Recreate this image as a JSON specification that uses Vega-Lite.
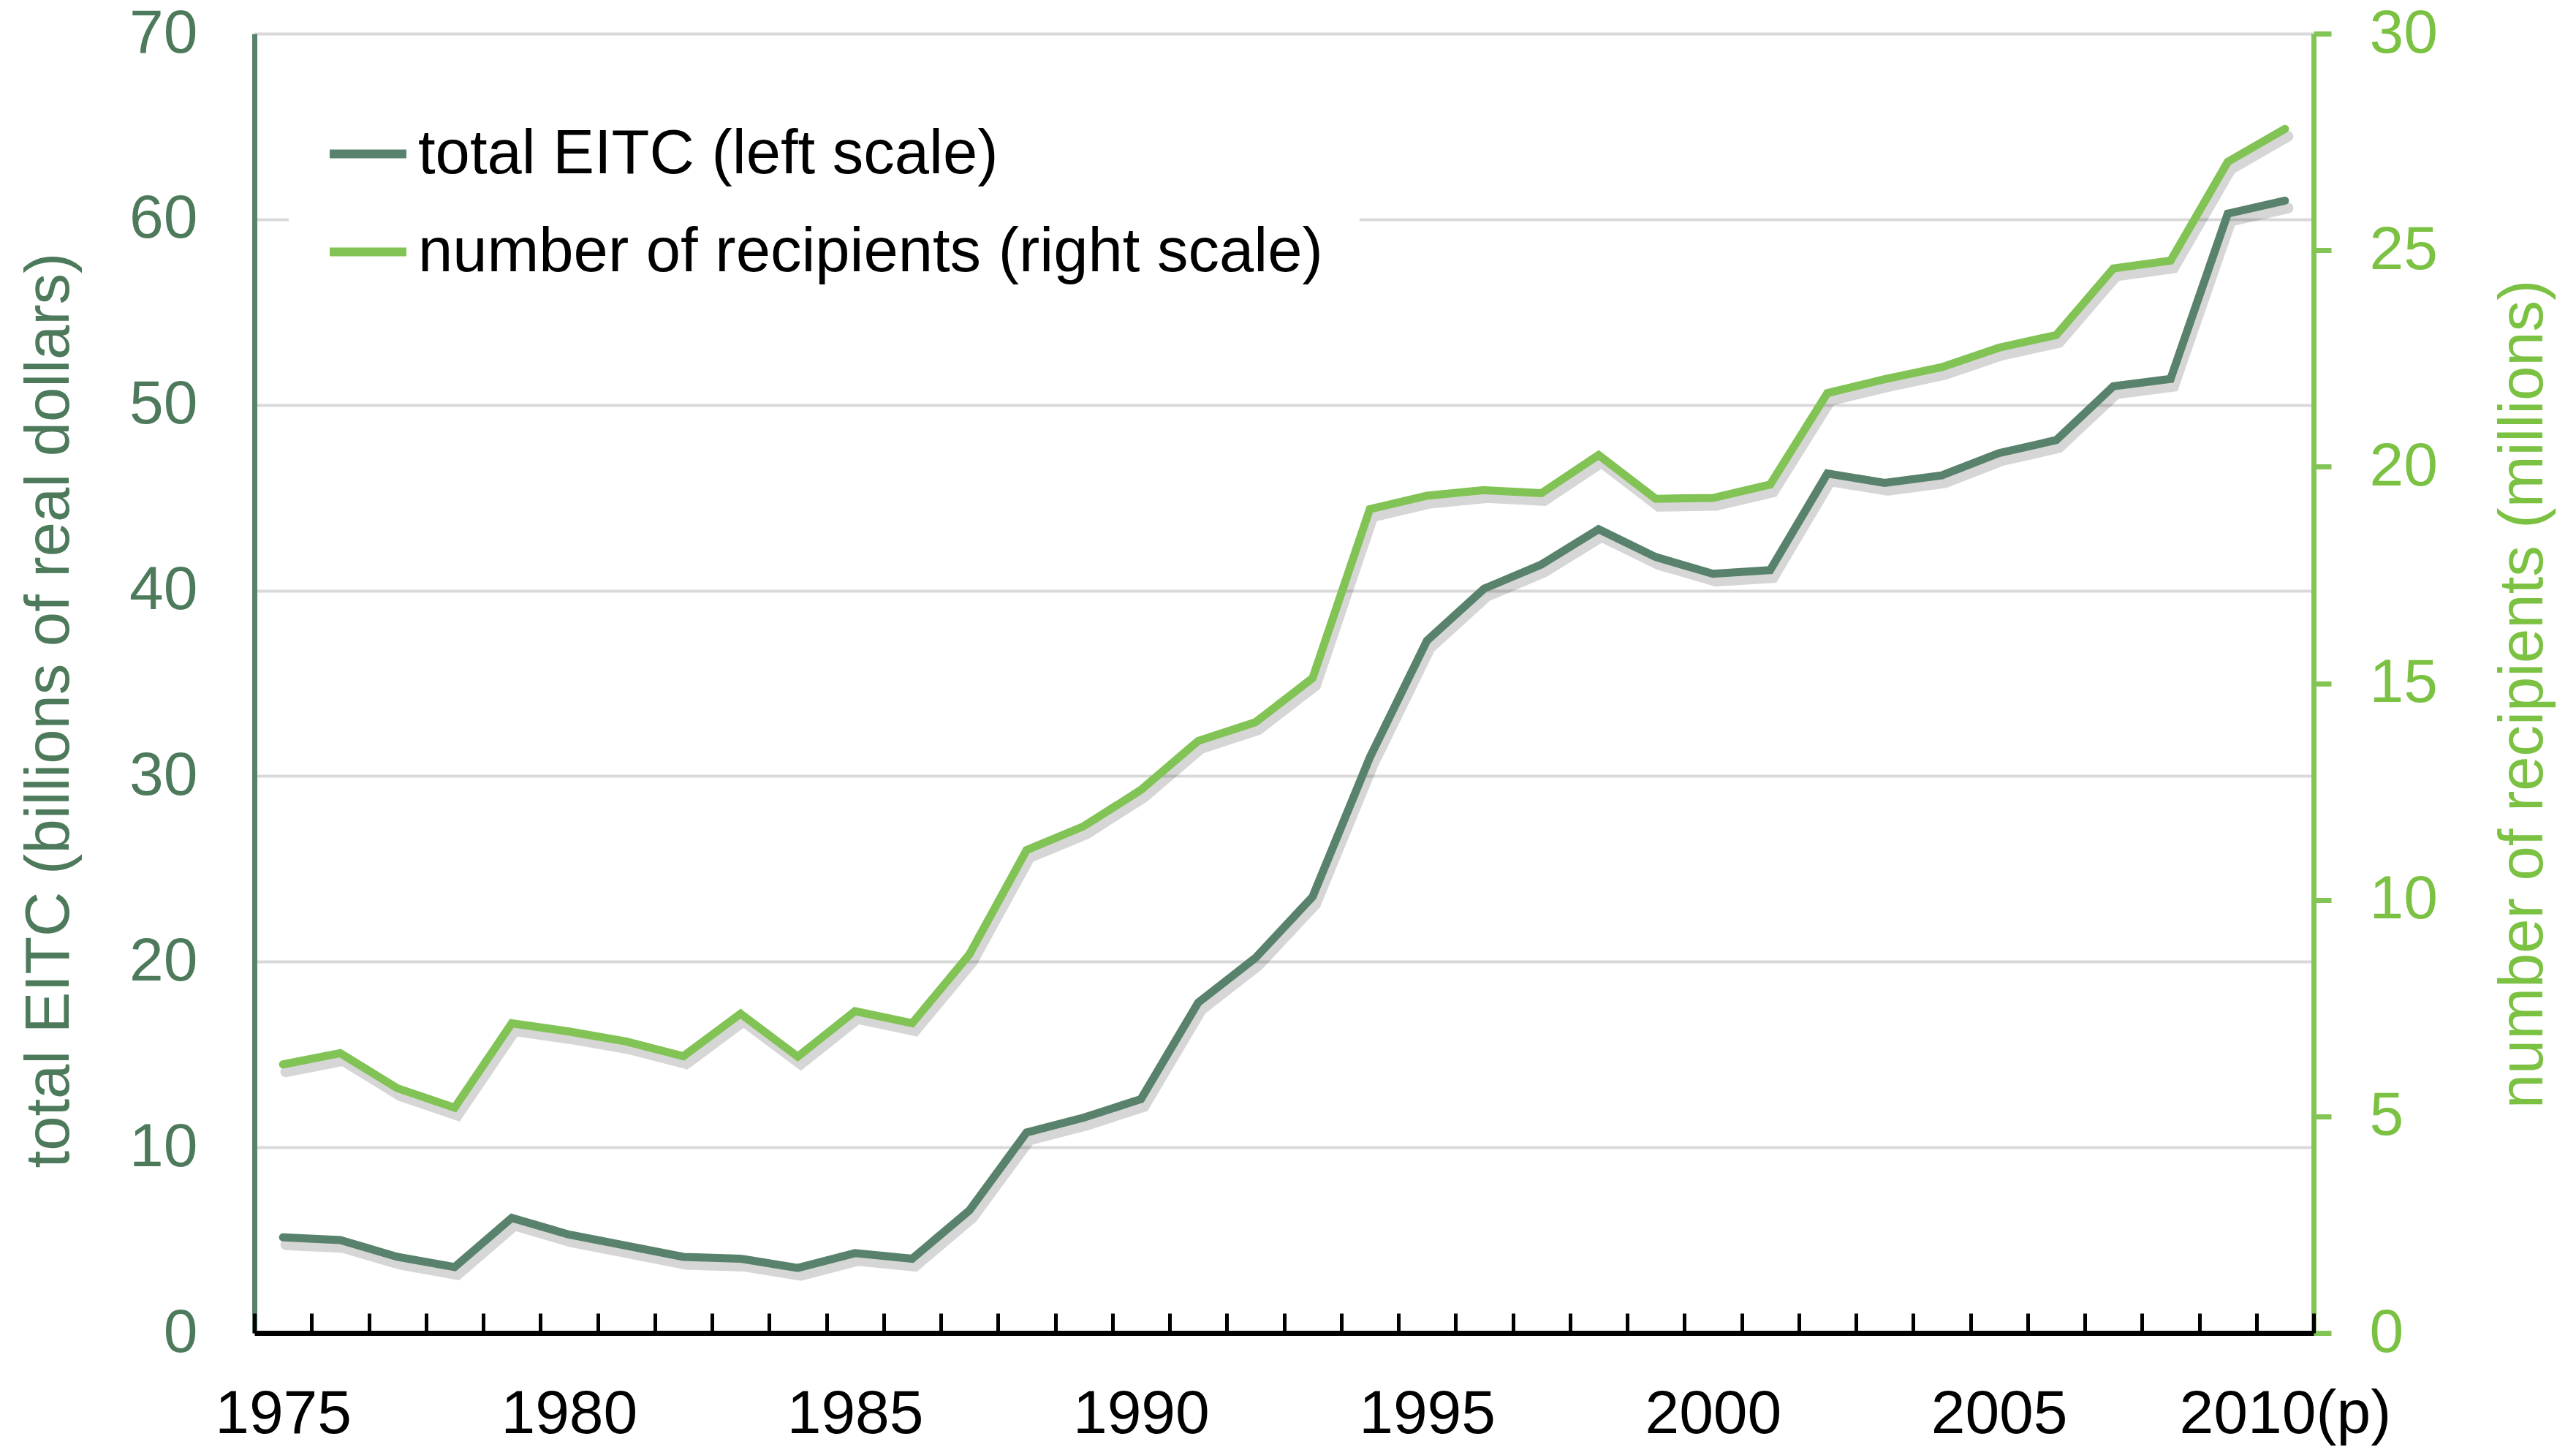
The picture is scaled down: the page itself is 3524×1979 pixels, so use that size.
{
  "$schema": "https://vega.github.io/schema/vega-lite/v6.json",
  "width": 2817,
  "height": 1777,
  "autosize": "none",
  "padding": {"left": 348, "top": 46, "right": 359, "bottom": 156},
  "background": "white",
  "config": {
    "view": {"stroke": null},
    "font": "Liberation Sans",
    "axis": {"labelFont": "Liberation Sans", "titleFont": "Liberation Sans", "labelFlush": false, "labelOverlap": false, "labelLimit": 0, "titleFontWeight": "normal"}
  },
  "data": {
    "values": [
      {"year": 1975, "eitc": 5.15, "recipients": 6.2},
      {"year": 1976, "eitc": 5.0, "recipients": 6.46},
      {"year": 1977, "eitc": 4.1, "recipients": 5.65},
      {"year": 1978, "eitc": 3.55, "recipients": 5.2},
      {"year": 1979, "eitc": 6.2, "recipients": 7.15},
      {"year": 1980, "eitc": 5.3, "recipients": 6.96},
      {"year": 1981, "eitc": 4.7, "recipients": 6.73},
      {"year": 1982, "eitc": 4.1, "recipients": 6.39},
      {"year": 1983, "eitc": 4.0, "recipients": 7.37},
      {"year": 1984, "eitc": 3.5, "recipients": 6.38},
      {"year": 1985, "eitc": 4.3, "recipients": 7.43},
      {"year": 1986, "eitc": 4.0, "recipients": 7.15},
      {"year": 1987, "eitc": 6.6, "recipients": 8.74},
      {"year": 1988, "eitc": 10.8, "recipients": 11.15},
      {"year": 1989, "eitc": 11.6, "recipients": 11.7},
      {"year": 1990, "eitc": 12.6, "recipients": 12.54},
      {"year": 1991, "eitc": 17.8, "recipients": 13.67},
      {"year": 1992, "eitc": 20.2, "recipients": 14.1},
      {"year": 1993, "eitc": 23.5, "recipients": 15.12},
      {"year": 1994, "eitc": 31.0, "recipients": 19.02},
      {"year": 1995, "eitc": 37.3, "recipients": 19.33},
      {"year": 1996, "eitc": 40.1, "recipients": 19.46},
      {"year": 1997, "eitc": 41.4, "recipients": 19.39},
      {"year": 1998, "eitc": 43.3, "recipients": 20.27},
      {"year": 1999, "eitc": 41.8, "recipients": 19.26},
      {"year": 2000, "eitc": 40.9, "recipients": 19.28},
      {"year": 2001, "eitc": 41.1, "recipients": 19.59},
      {"year": 2002, "eitc": 46.3, "recipients": 21.7},
      {"year": 2003, "eitc": 45.8, "recipients": 22.02},
      {"year": 2004, "eitc": 46.2, "recipients": 22.3},
      {"year": 2005, "eitc": 47.4, "recipients": 22.75},
      {"year": 2006, "eitc": 48.1, "recipients": 23.04},
      {"year": 2007, "eitc": 51.0, "recipients": 24.58},
      {"year": 2008, "eitc": 51.4, "recipients": 24.76},
      {"year": 2009, "eitc": 60.3, "recipients": 27.04},
      {"year": 2010, "eitc": 61.0, "recipients": 27.8}
    ]
  },
  "layer": [
    {
      "encoding": {
        "x": {
          "field": "year", "type": "quantitative",
          "scale": {"domain": [1974.5, 2010.5], "nice": false, "zero": false},
          "axis": {
            "orient": "bottom", "title": null, "labels": false, "grid": false,
            "domain": true, "domainColor": "#000000", "domainWidth": 7,
            "ticks": true, "tickColor": "#000000", "tickWidth": 5, "tickSize": -27,
            "values": [1974.5, 1975.5, 1976.5, 1977.5, 1978.5, 1979.5, 1980.5, 1981.5, 1982.5, 1983.5, 1984.5, 1985.5, 1986.5, 1987.5, 1988.5, 1989.5, 1990.5, 1991.5, 1992.5, 1993.5, 1994.5, 1995.5, 1996.5, 1997.5, 1998.5, 1999.5, 2000.5, 2001.5, 2002.5, 2003.5, 2004.5, 2005.5, 2006.5, 2007.5, 2008.5, 2009.5, 2010.5],
            "zindex": 2
          }
        },
        "y": {
          "field": "eitc", "type": "quantitative",
          "scale": {"domain": [0, 70], "nice": false, "zero": true},
          "axis": {
            "orient": "left",
            "values": [0, 10, 20, 30, 40, 50, 60, 70],
            "grid": true, "gridColor": "#D9D9D9", "gridWidth": 4,
            "domain": true, "domainColor": "#58826C", "domainWidth": 7,
            "ticks": false, "labelPadding": 78,
            "labelFontSize": 84, "labelColor": "#4E7A5C",
            "title": "total EITC (billions of real dollars)",
            "titleFontSize": 85, "titleColor": "#4E7A5C",
            "titleAngle": -90, "titleAlign": "center", "titleBaseline": "middle",
            "titleX": -281, "titleY": 925
          }
        }
      },
      "layer": [
        {
          "mark": {"type": "line", "color": "#000000", "opacity": 0.16, "strokeWidth": 15, "xOffset": 4, "yOffset": 10, "strokeCap": "round"}
        },
        {
          "mark": {"type": "line", "strokeWidth": 11, "strokeCap": "round"},
          "encoding": {
            "color": {
              "datum": "total EITC (left scale)",
              "scale": {"domain": ["total EITC (left scale)", "number of recipients (right scale)"], "range": ["#58826C", "#81C354"]},
              "legend": {
                "orient": "none", "legendX": 47, "legendY": 56, "direction": "vertical",
                "title": null, "symbolType": "stroke", "symbolSize": 11000, "symbolStrokeWidth": 12,
                "labelFontSize": 85, "labelFont": "Liberation Sans", "labelColor": "#000000",
                "labelLimit": 0, "labelOffset": 10, "padding": 50, "fillColor": "#FFFFFF",
                "rowPadding": 32
              }
            }
          }
        }
      ]
    },
    {
      "encoding": {
        "x": {
          "field": "year", "type": "quantitative",
          "scale": {"domain": [1974.5, 2010.5], "nice": false, "zero": false},
          "axis": {
            "orient": "bottom", "title": null, "grid": false, "domain": false, "ticks": false,
            "values": [1975, 1980, 1985, 1990, 1995, 2000, 2005, 2010],
            "format": "d",
            "labelExpr": "datum.value == 2010 ? '2010(p)' : datum.label",
            "labelFontSize": 84, "labelColor": "#000000", "labelPadding": 70, "labelLimit": 0
          }
        },
        "y": {
          "field": "recipients", "type": "quantitative",
          "scale": {"domain": [0, 30], "nice": false, "zero": true},
          "axis": {
            "orient": "right",
            "values": [0, 5, 10, 15, 20, 25, 30],
            "grid": false,
            "domain": true, "domainColor": "#82C455", "domainWidth": 7,
            "ticks": true, "tickColor": "#82C455", "tickWidth": 7, "tickSize": 24,
            "labelPadding": 52, "labelFontSize": 84, "labelColor": "#7BC142",
            "title": "number of recipients (millions)",
            "titleFontSize": 85, "titleColor": "#7BC142",
            "titleAngle": -90, "titleAlign": "center", "titleBaseline": "middle",
            "titleX": 286, "titleY": 903
          }
        }
      },
      "layer": [
        {
          "mark": {"type": "line", "color": "#000000", "opacity": 0.16, "strokeWidth": 15, "xOffset": 4, "yOffset": 10, "strokeCap": "round"}
        },
        {
          "mark": {"type": "line", "strokeWidth": 11, "strokeCap": "round"},
          "encoding": {
            "color": {
              "datum": "number of recipients (right scale)",
              "scale": {"domain": ["total EITC (left scale)", "number of recipients (right scale)"], "range": ["#58826C", "#81C354"]}
            }
          }
        }
      ]
    }
  ],
  "resolve": {"scale": {"y": "independent"}, "axis": {"x": "independent"}}
}
